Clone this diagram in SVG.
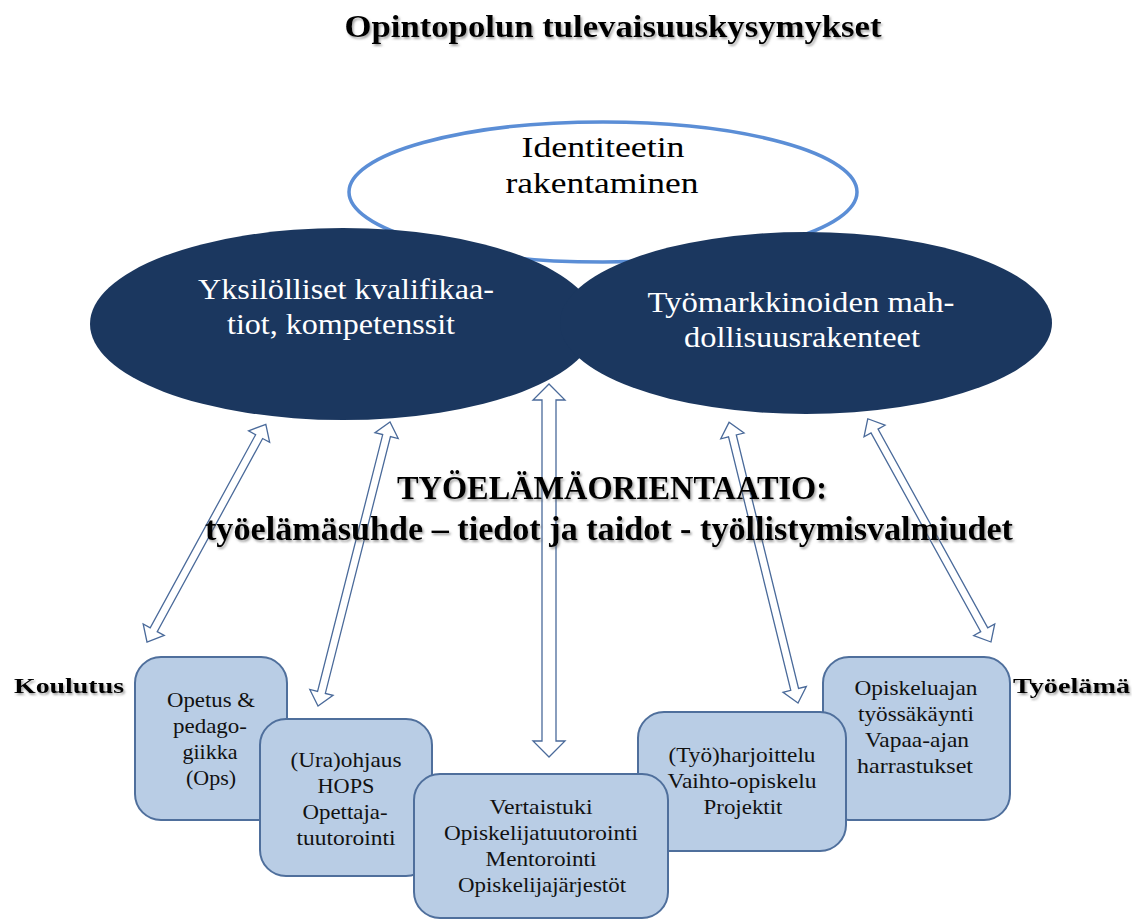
<svg xmlns="http://www.w3.org/2000/svg" width="1132" height="920" viewBox="0 0 1132 920">
<defs>
<filter id="shadow" x="-5%" y="-30%" width="110%" height="160%">
<feDropShadow dx="1.5" dy="2" stdDeviation="1.3" flood-color="#555" flood-opacity="0.55"/>
</filter>
<style>
.serif{font-family:"Liberation Serif","Times New Roman",serif;}
.title{font-size:32px;font-weight:bold;fill:#000;}
.head{font-size:33px;font-weight:bold;fill:#000;}
.side{font-size:22px;font-weight:bold;fill:#000;}
.ell-dark{fill:#1B375F;stroke:none;}
.ell-light{fill:#fff;stroke:#5B8ED6;stroke-width:3.5;}
.etext-dark{font-size:30px;fill:#000;}
.etext-light{font-size:30px;fill:#fff;}
.box{fill:#B9CDE5;stroke:#4F6F9C;stroke-width:2;}
.btext{font-size:21px;fill:#111;}
.arrow{fill:#fff;stroke:#4A6A9A;stroke-width:1.3;stroke-linejoin:miter;}
</style>
</defs>
<rect x="0" y="0" width="1132" height="920" fill="#fff"/>

<g id="title">
<text class="serif title" x="613" y="37" text-anchor="middle" textLength="537" lengthAdjust="spacingAndGlyphs" filter="url(#shadow)">Opintopolun tulevaisuuskysymykset</text>
</g>

<g id="node-identiteetti">
<ellipse class="ell-light" cx="603" cy="192" rx="254" ry="70"/>
<text class="serif etext-dark" x="603" y="157" text-anchor="middle" textLength="163" lengthAdjust="spacingAndGlyphs">Identiteetin</text>
<text class="serif etext-dark" x="602" y="193" text-anchor="middle" textLength="193" lengthAdjust="spacingAndGlyphs">rakentaminen</text>
</g>

<g id="node-yksilolliset">
<ellipse class="ell-dark" cx="343" cy="324" rx="253" ry="96"/>
<text class="serif etext-light" x="346" y="299" text-anchor="middle" textLength="296" lengthAdjust="spacingAndGlyphs">Yksilölliset kvalifikaa-</text>
<text class="serif etext-light" x="341" y="334" text-anchor="middle" textLength="228" lengthAdjust="spacingAndGlyphs">tiot, kompetenssit</text>
</g>

<g id="node-tyomarkkinat">
<ellipse class="ell-dark" cx="806" cy="323" rx="246" ry="91"/>
<text class="serif etext-light" x="801" y="312" text-anchor="middle" textLength="307" lengthAdjust="spacingAndGlyphs">Työmarkkinoiden mah-</text>
<text class="serif etext-light" x="802" y="347" text-anchor="middle" textLength="236" lengthAdjust="spacingAndGlyphs">dollisuusrakenteet</text>
</g>

<g id="connectors">
<polygon class="arrow" transform="translate(147,642) rotate(-61.37)" points="0,0 14,-12 14,-4 234,-4 234,-12 248,0 234,12 234,4 14,4 14,12"/>
<polygon class="arrow" transform="translate(318,706) rotate(-75.77)" points="0,0 14,-12 14,-4 279,-4 279,-12 293,0 279,12 279,4 14,4 14,12"/>
<polygon class="arrow" transform="translate(549,757) rotate(-90)" points="0,0 16,-16 16,-7 357,-7 357,-16 373,0 357,16 357,7 16,7 16,16"/>
<polygon class="arrow" transform="translate(798,703) rotate(-103.8)" points="0,0 14,-12 14,-4 275,-4 275,-12 289,0 275,12 275,4 14,4 14,12"/>
<polygon class="arrow" transform="translate(991,642) rotate(-118.9)" points="0,0 14,-12 14,-4 241,-4 241,-12 255,0 241,12 241,4 14,4 14,12"/>
</g>

<g id="orientaatio">
<text class="serif head" x="612" y="499" text-anchor="middle" textLength="430" lengthAdjust="spacingAndGlyphs" filter="url(#shadow)">TYÖELÄMÄORIENTAATIO:</text>
<text class="serif head" x="609" y="540" text-anchor="middle" textLength="808" lengthAdjust="spacingAndGlyphs" filter="url(#shadow)">työelämäsuhde – tiedot ja taidot - työllistymisvalmiudet</text>
</g>

<g id="label-koulutus">
<text class="serif side" x="14" y="693" textLength="110" lengthAdjust="spacingAndGlyphs" filter="url(#shadow)">Koulutus</text>
</g>
<g id="label-tyoelama">
<text class="serif side" x="1013" y="693" textLength="117" lengthAdjust="spacingAndGlyphs" filter="url(#shadow)">Työelämä</text>
</g>

<g id="box-opetus">
<rect class="box" x="135" y="657" width="152" height="163" rx="26" ry="26"/>
<text class="serif btext" x="211" y="707" text-anchor="middle" textLength="88" lengthAdjust="spacingAndGlyphs">Opetus &amp;</text>
<text class="serif btext" x="210" y="733" text-anchor="middle" textLength="74" lengthAdjust="spacingAndGlyphs">pedago-</text>
<text class="serif btext" x="210" y="759" text-anchor="middle" textLength="55" lengthAdjust="spacingAndGlyphs">giikka</text>
<text class="serif btext" x="211" y="785" text-anchor="middle" textLength="50" lengthAdjust="spacingAndGlyphs">(Ops)</text>
</g>

<g id="box-ohjaus">
<rect class="box" x="260" y="719" width="172" height="157" rx="26" ry="26"/>
<text class="serif btext" x="346" y="767" text-anchor="middle" textLength="111" lengthAdjust="spacingAndGlyphs">(Ura)ohjaus</text>
<text class="serif btext" x="346" y="793" text-anchor="middle" textLength="57" lengthAdjust="spacingAndGlyphs">HOPS</text>
<text class="serif btext" x="345" y="819" text-anchor="middle" textLength="85" lengthAdjust="spacingAndGlyphs">Opettaja-</text>
<text class="serif btext" x="346" y="845" text-anchor="middle" textLength="99" lengthAdjust="spacingAndGlyphs">tuutorointi</text>
</g>

<g id="box-tyoelama">
<rect class="box" x="823" y="657" width="187" height="163" rx="26" ry="26"/>
<text class="serif btext" x="916" y="695" text-anchor="middle" textLength="123" lengthAdjust="spacingAndGlyphs">Opiskeluajan</text>
<text class="serif btext" x="916" y="721" text-anchor="middle" textLength="116" lengthAdjust="spacingAndGlyphs">työssäkäynti</text>
<text class="serif btext" x="917" y="747" text-anchor="middle" textLength="104" lengthAdjust="spacingAndGlyphs">Vapaa-ajan</text>
<text class="serif btext" x="915" y="773" text-anchor="middle" textLength="116" lengthAdjust="spacingAndGlyphs">harrastukset</text>
</g>

<g id="box-harjoittelu">
<rect class="box" x="638" y="712" width="208" height="139" rx="26" ry="26"/>
<text class="serif btext" x="742" y="762" text-anchor="middle" textLength="147" lengthAdjust="spacingAndGlyphs">(Työ)harjoittelu</text>
<text class="serif btext" x="742" y="788" text-anchor="middle" textLength="149" lengthAdjust="spacingAndGlyphs">Vaihto-opiskelu</text>
<text class="serif btext" x="743" y="814" text-anchor="middle" textLength="79" lengthAdjust="spacingAndGlyphs">Projektit</text>
</g>

<g id="box-vertaistuki">
<rect class="box" x="414" y="774" width="254" height="144" rx="26" ry="26"/>
<text class="serif btext" x="541" y="814" text-anchor="middle" textLength="103" lengthAdjust="spacingAndGlyphs">Vertaistuki</text>
<text class="serif btext" x="541" y="840" text-anchor="middle" textLength="194" lengthAdjust="spacingAndGlyphs">Opiskelijatuutorointi</text>
<text class="serif btext" x="541" y="866" text-anchor="middle" textLength="111" lengthAdjust="spacingAndGlyphs">Mentorointi</text>
<text class="serif btext" x="542" y="892" text-anchor="middle" textLength="168" lengthAdjust="spacingAndGlyphs">Opiskelijajärjestöt</text>
</g>
</svg>
